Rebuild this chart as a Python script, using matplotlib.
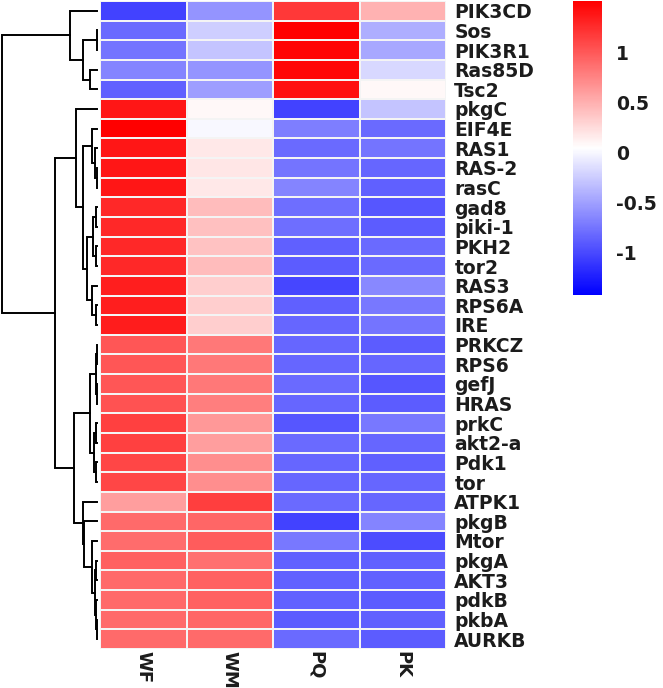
import matplotlib
matplotlib.use("Agg")
import matplotlib.pyplot as plt
import numpy as np

plt.rcParams['font.family'] = ['DejaVu Sans']

# filas (de arriba abajo) y columnas
genes = ["PIK3CD", "Sos", "PIK3R1", "Ras85D", "Tsc2", "pkgC", "EIF4E", "RAS1",
         "RAS-2", "rasC", "gad8", "piki-1", "PKH2", "tor2", "RAS3", "RPS6A",
         "IRE", "PRKCZ", "RPS6", "gefJ", "HRAS", "prkC", "akt2-a", "Pdk1",
         "tor", "ATPK1", "pkgB", "Mtor", "pkgA", "AKT3", "pdkB", "pkbA", "AURKB"]
muestras = ["WF", "WM", "PQ", "PK"]

WF = [-1.04, -0.82, -0.76, -0.67, -0.87, 1.38, 1.50, 1.38, 1.38, 1.38, 1.27,
      1.27, 1.28, 1.27, 1.33, 1.33, 1.34, 1.01, 1.01, 1.01, 1.03, 1.14, 1.14,
      1.10, 1.10, 0.60, 0.89, 0.88, 0.95, 0.89, 0.89, 0.89, 0.89]
WM = [-0.58, -0.24, -0.30, -0.58, -0.52, 0.08, 0.00, 0.17, 0.18, 0.17, 0.42,
      0.40, 0.39, 0.42, 0.32, 0.32, 0.32, 0.81, 0.81, 0.81, 0.78, 0.63, 0.60,
      0.69, 0.69, 1.15, 0.92, 0.98, 0.86, 0.95, 0.95, 0.92, 0.89]
PQ = [1.18, 1.50, 1.48, 1.47, 1.41, -1.05, -0.70, -0.81, -0.76, -0.67, -0.79,
      -0.79, -0.87, -0.90, -1.02, -0.87, -0.84, -0.84, -0.84, -0.81, -0.84,
      -0.93, -0.81, -0.84, -0.84, -0.81, -1.04, -0.73, -0.87, -0.87, -0.87,
      -0.90, -0.81]
PK = [0.48, -0.43, -0.46, -0.18, 0.08, -0.30, -0.81, -0.76, -0.84, -0.87, -0.93,
      -0.90, -0.81, -0.81, -0.64, -0.73, -0.76, -0.90, -0.84, -0.93, -0.90,
      -0.73, -0.84, -0.87, -0.84, -0.84, -0.67, -0.99, -0.87, -0.87, -0.90,
      -0.87, -0.90]

# dendrograma de filas: uniones (izq, der, altura); ids >= 33 son clusters
union_izq = [1, 3, 33, 0, 8, 7, 6, 10, 12, 40, 15, 14, 42, 39, 5,
             17, 19, 48, 21, 23, 51, 50, 31, 30, 28, 57, 27, 26, 25, 54, 47, 36]
union_der = [2, 4, 34, 35, 9, 37, 38, 11, 13, 41, 16, 43, 44, 45, 46,
             18, 20, 49, 22, 24, 52, 53, 32, 55, 29, 56, 58, 59, 60, 61, 62, 63]
union_alt = [0.5, 7, 14, 27, 0.5, 2, 5, 1, 1, 4.5, 1.5, 5, 10, 14, 21,
             0.3, 0.3, 0.8, 0.8, 0.6, 3, 7.5, 0.3, 0.8, 0.8, 2, 5, 13.5, 14, 23, 42, 95]

datos = np.array([WF, WM, PQ, PK]).T
n = len(genes)
fs = 13.5
col_txt = '#1c1c1c'

fig = plt.figure(figsize=(6.63, 6.88), dpi=100)
W, H = 663, 688

# --- mapa de calor ---
ax = fig.add_axes([100 / W, 39 / H, 346 / W, 648 / H])
malla = ax.pcolormesh(datos, cmap='bwr', vmin=-1.43, vmax=1.51,
                      edgecolors='#f4f4f4', linewidth=1.2)
ax.set_xlim(0, len(muestras))
ax.set_ylim(n, 0)
ax.set_xticks(np.arange(len(muestras)) + 0.5)
ax.set_xticklabels(muestras, rotation=-90, fontsize=13, fontweight='bold',
                   color=col_txt, va='top')
ax.set_yticks(np.arange(n) + 0.5)
ax.set_yticklabels(genes, fontsize=fs, fontweight='bold', color=col_txt)
ax.yaxis.tick_right()
ax.tick_params(length=0)
ax.tick_params(axis='x', pad=1.5)
ax.tick_params(axis='y', pad=6)
for s in ax.spines.values():
    s.set_visible(False)

# --- dendrograma ---
axd = fig.add_axes([0, 39 / H, 100 / W, 648 / H])
pos_y = {i: i + 0.5 for i in range(n)}
alt = {i: 0.0 for i in range(n)}
for k, (a, b, h) in enumerate(zip(union_izq, union_der, union_alt)):
    ya, yb = pos_y[a], pos_y[b]
    axd.plot([alt[a], h, h, alt[b]], [ya, ya, yb, yb], color='black', lw=1.4,
             solid_joinstyle='miter')
    pos_y[n + k] = (ya + yb) / 2
    alt[n + k] = h
axd.set_xlim(97, -3)
axd.set_ylim(n, 0)
axd.axis('off')

# --- leyenda de color ---
cax = fig.add_axes([573 / W, 393 / H, 29 / W, 294 / H])
cb = fig.colorbar(malla, cax=cax, ticks=[-1, -0.5, 0, 0.5, 1])
cb.ax.set_yticklabels(["-1", "-0.5", "0", "0.5", "1"], fontsize=fs,
                      fontweight='bold', color=col_txt)
cb.ax.tick_params(length=0, pad=10)
cb.outline.set_visible(False)

fig.savefig("out.png", dpi=100)
